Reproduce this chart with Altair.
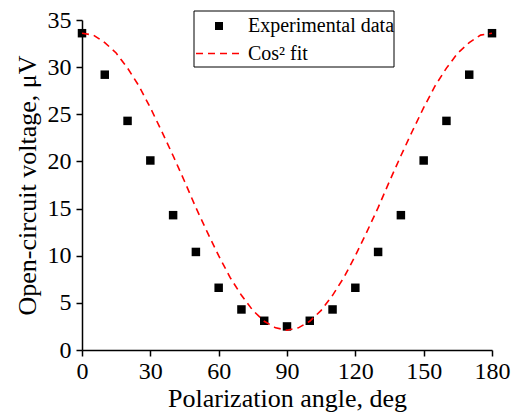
import altair as alt
import pandas as pd

# Experimental data
angles = [0, 10, 20, 30, 40, 50, 60, 70, 80, 90, 100, 110, 120, 130, 140, 150, 160, 170, 180]
voltage = [33.6, 29.2, 24.3, 20.1, 14.3, 10.4, 6.6, 4.3, 3.1, 2.5, 3.1, 4.3, 6.6, 10.4, 14.3, 20.1, 24.3, 29.2, 33.6]

# Cos^2 fit curve
fit_angles = [0, 5, 10, 15, 20, 25, 30, 35, 40, 45, 50, 55, 60, 65, 70, 75, 80, 85, 90,
              95, 100, 105, 110, 115, 120, 125, 130, 135, 140, 145, 150, 155, 160, 165, 170, 175, 180]
fit_values = [33.6, 33.4, 32.6, 31.5, 29.9, 28.0, 25.7, 23.2, 20.6, 17.9, 15.1, 12.5, 10.0, 7.7, 5.8, 4.2, 3.05, 2.35, 2.1,
              2.35, 3.05, 4.2, 5.8, 7.7, 10.0, 12.5, 15.1, 17.9, 20.6, 23.2, 25.7, 28.0, 29.9, 31.5, 32.6, 33.4, 33.6]

series_names = ["Experimental data", "Cos\u00b2 fit"]

FONT = "Liberation Serif"

df_pts = pd.DataFrame({"angle": angles, "voltage": voltage, "series": series_names[0]})
df_fit = pd.DataFrame({"angle": fit_angles, "voltage": fit_values, "series": series_names[1]})

x_ticks = list(range(0, 181, 15))
y_ticks = [i * 2.5 for i in range(0, 15)]

x_enc = alt.X(
    "angle:Q",
    scale=alt.Scale(domain=[0, 180], nice=False, zero=False),
    axis=alt.Axis(
        title="Polarization angle, deg",
        values=x_ticks,
        labelExpr="datum.value % 30 === 0 ? datum.label : ''",
        tickSize={"condition": {"test": "datum.value % 30 !== 0", "value": 3}, "value": 6},
        grid=False,
        labelPadding=3,
        titlePadding=2,
    ),
)
y_enc = alt.Y(
    "voltage:Q",
    scale=alt.Scale(domain=[0, 35], nice=False),
    axis=alt.Axis(
        title="Open-circuit voltage, \u03bcV",
        values=y_ticks,
        labelExpr="datum.value % 5 === 0 ? datum.label : ''",
        tickSize={"condition": {"test": "datum.value % 5 !== 0", "value": 3}, "value": 6},
        grid=False,
        labelPadding=5,
        titlePadding=7,
    ),
)

points = alt.Chart(df_pts).mark_point(shape="square", filled=True, size=72, opacity=1).encode(
    x=x_enc,
    y=y_enc,
    color=alt.Color(
        "series:N",
        scale=alt.Scale(domain=[series_names[0]], range=["black"]),
        legend=alt.Legend(
            title=None, orient="none", legendX=127, legendY=-4, padding=0,
            symbolType="square", symbolSize=64, symbolFillColor="black",
            symbolStrokeWidth=0, labelOffset=19,
            labelFont=FONT, labelFontSize=20, labelColor="black",
        ),
    ),
)

fit = alt.Chart(df_fit).mark_line(color="#ff0000", strokeWidth=1.6).encode(
    x="angle:Q",
    y="voltage:Q",
    strokeDash=alt.StrokeDash(
        "series:N",
        scale=alt.Scale(domain=[series_names[1]], range=[[7, 5]]),
        legend=alt.Legend(
            title=None, orient="none", legendX=113, legendY=10, padding=0,
            symbolType="stroke", symbolSize=2025, symbolStrokeColor="#ff0000",
            symbolStrokeWidth=1.6, labelOffset=6,
            labelFont=FONT, labelFontSize=20, labelColor="black",
        ),
    ),
)

box = alt.Chart(pd.DataFrame({"k": [0]})).mark_rect(
    fill=None, filled=False, stroke="black", strokeWidth=1
).encode(
    x=alt.value(112), x2=alt.value(312), y=alt.value(-9), y2=alt.value(47)
)

chart = alt.layer(points, fit, box).resolve_legend(color="independent", strokeDash="independent").properties(
    width=410,
    height=330,
    background="white",
    autosize=alt.AutoSizeParams(type="none"),
    padding={"left": 82, "top": 20, "right": 29, "bottom": 64},
).configure_view(stroke=None).configure_axis(
    labelFont=FONT, labelFontSize=24, labelColor="black",
    titleFont=FONT, titleFontSize=26, titleFontWeight="normal", titleColor="black",
    domainColor="black", domainWidth=1.5, tickColor="black", tickWidth=1.5,
    labelFlush=False, labelOverlap=False,
)

chart.save("out.html", embed_options={"renderer": "svg", "actions": False})
